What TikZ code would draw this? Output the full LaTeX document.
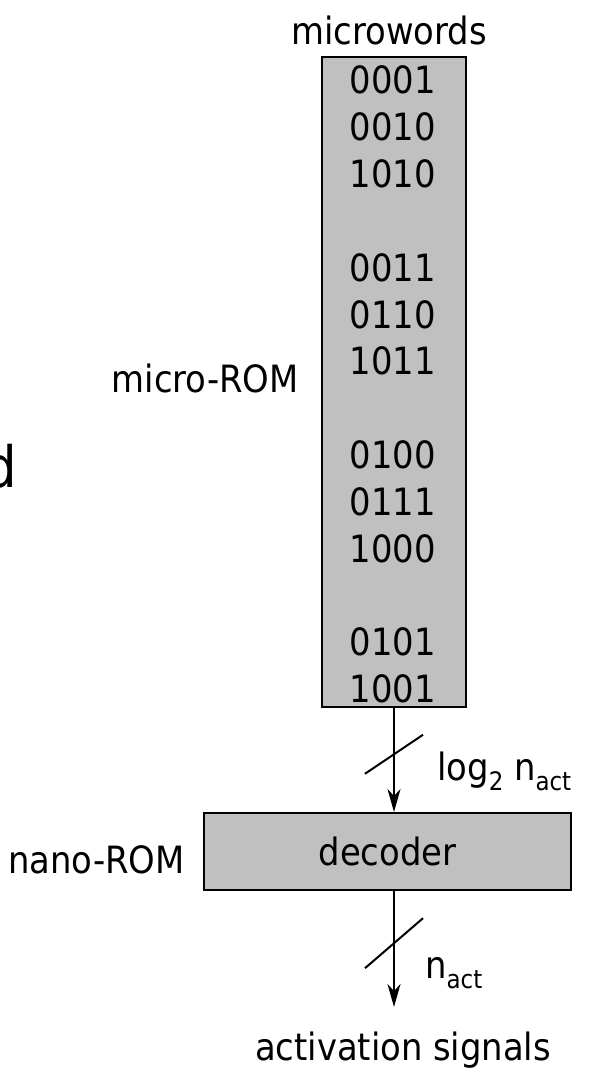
\documentclass[tikz,border=0pt]{standalone}
\usepackage{fontspec}
\setmainfont{DejaVu Sans Condensed}
\usetikzlibrary{arrows.meta,calc}
\definecolor{boxgray}{RGB}{192,192,192}
\newcommand\mysub[1]{\raisebox{-10pt}{\fontsize{25.5}{25.5}\selectfont #1}}
\begin{document}
\begin{tikzpicture}[x=1pt,y=-1pt,
  lbl/.style={inner sep=0pt, font=\fontsize{37.6}{44}\selectfont},
  graybox/.style={draw=black, line width=2pt, fill=boxgray, inner sep=0pt},
  arr/.style={line width=2pt, -{Stealth[length=23pt,width=13pt,inset=7pt]}},
  slashline/.style={line width=2pt}]
\clip (0,0) rectangle (596,1078);
\fill[white] (0,0) rectangle (596,1078);
% cut-off letter at the left edge
\node[inner sep=0pt, anchor=base east, font=\fontsize{57}{60}\selectfont] (cut) at (17,487) {d};
% micro-ROM
\node[lbl, anchor=base] (mw) at (389,45) {microwords};
\node[graybox, minimum width=144pt, minimum height=650pt] (rom) at (394,382) {};
\foreach \w/\k [count=\i] in {0001/0,0010/1,1010/2,0011/4,0110/5,1011/6,0100/8,0111/9,1000/10,0101/12,1001/13}
  \node[lbl, anchor=base] (w\i) at (393,{94+46.8*\k}) {\w};
\node[lbl, anchor=base east] (mrom) at (299,392) {micro-ROM};
% decoder
\node[graybox, minimum width=367pt, minimum height=77pt] (dec) at (387.5,851.5) {};
\node[lbl] (dect) at (dec.center) {decoder};
\node[lbl, anchor=base east] (nrom) at (185,873) {nano-ROM};
% connectors
\draw[arr] (rom.south) -- (rom.south |- dec.north)
  coordinate[pos=0.44] (s1);
\draw[slashline] ($(s1)+(-29,20)$) -- ($(s1)+(29,-19)$);
\node[lbl, anchor=base west] (l1) at (437,780) {log\mysub{2} n\mysub{act}};
\coordinate (tip) at (394,1007);
\draw[arr] (rom.south |- dec.south) -- (tip) coordinate[pos=0.45] (s2);
\draw[slashline] ($(s2)+(-29,25)$) -- ($(s2)+(29,-25)$);
\node[lbl, anchor=base west] (l2) at (425,978) {n\mysub{act}};
\node[lbl, anchor=base] (sig) at (403,1060) {activation signals};
\end{tikzpicture}
\end{document}
